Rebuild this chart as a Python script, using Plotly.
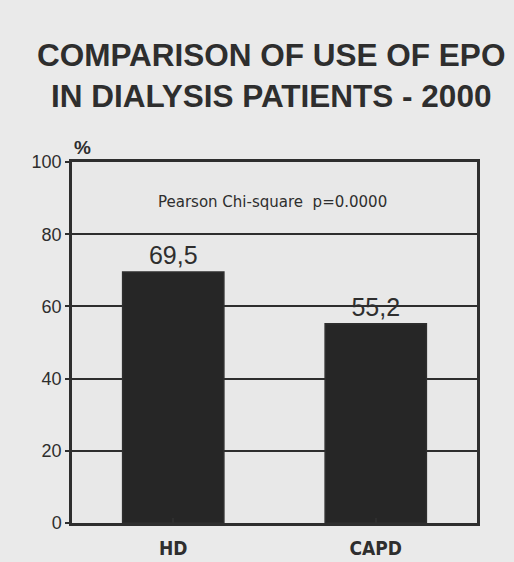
import plotly.graph_objects as go

categories = ["HD", "CAPD"]
values = [69.5, 55.2]
value_labels = ["69,5", "55,2"]
tick_vals = [0, 20, 40, 60, 80, 100]
tick_text = ["0", "20", "40", "60", "80", "100"]
title_lines = ["COMPARISON OF USE OF EPO", "IN DIALYSIS PATIENTS - 2000"]
note = "Pearson Chi-square  p=0.0000"

INK = "#2e2e2e"
BG = "#eaeaea"

fig = go.Figure()
fig.add_trace(go.Bar(
    x=categories, y=values, width=0.5,
    marker=dict(color="#262626", line=dict(color=INK, width=1.5)),
    text=value_labels, textposition="outside", cliponaxis=False,
    textfont=dict(family="Liberation Sans, Arial", size=25, color=INK),
))

fig.update_layout(
    width=514, height=562,
    margin=dict(l=64, r=45, t=154, b=47),
    paper_bgcolor=BG, plot_bgcolor="#e8e8e8",
    showlegend=False,
    title=dict(text="<br>".join(title_lines), x=0.512, xanchor="center", y=0.896, yanchor="middle",
               font=dict(family="Liberation Sans, Arial", size=31.5, color=INK, weight="bold")),
    xaxis=dict(range=[-0.5, 1.5], showgrid=False, showline=True, linecolor=INK, linewidth=2.5,
               mirror=True, ticks="inside", ticklen=5, tickcolor=INK, tickwidth=1.5,
               ticklabelstandoff=6,
               tickfont=dict(family="DejaVu Sans Condensed, Liberation Sans", size=19, color=INK, weight="bold"),
               zeroline=False),
    yaxis=dict(range=[0, 100], tickvals=tick_vals, ticktext=tick_text, showgrid=True,
               gridcolor=INK, gridwidth=2, showline=True, linecolor=INK, linewidth=2.5,
               mirror=True, ticks="outside", ticklen=4, tickcolor=INK, tickwidth=1.5,
               tickfont=dict(family="Liberation Sans, Arial", size=18, color=INK), zeroline=False),
)
fig.add_annotation(text="%", xref="paper", yref="paper", x=0.027, y=1.0, xanchor="center", yanchor="bottom",
                   yshift=2, showarrow=False,
                   font=dict(family="Liberation Sans, Arial", size=19, color=INK, weight="bold"))
fig.add_annotation(text=note, xref="paper", yref="y", x=0.494, y=89.2, xanchor="center", yanchor="middle",
                   showarrow=False, font=dict(family="DejaVu Sans Condensed, Liberation Sans", size=16.7, color=INK))

fig.write_html("out.html", post_script="document.body.style.background='%s';" % BG)
